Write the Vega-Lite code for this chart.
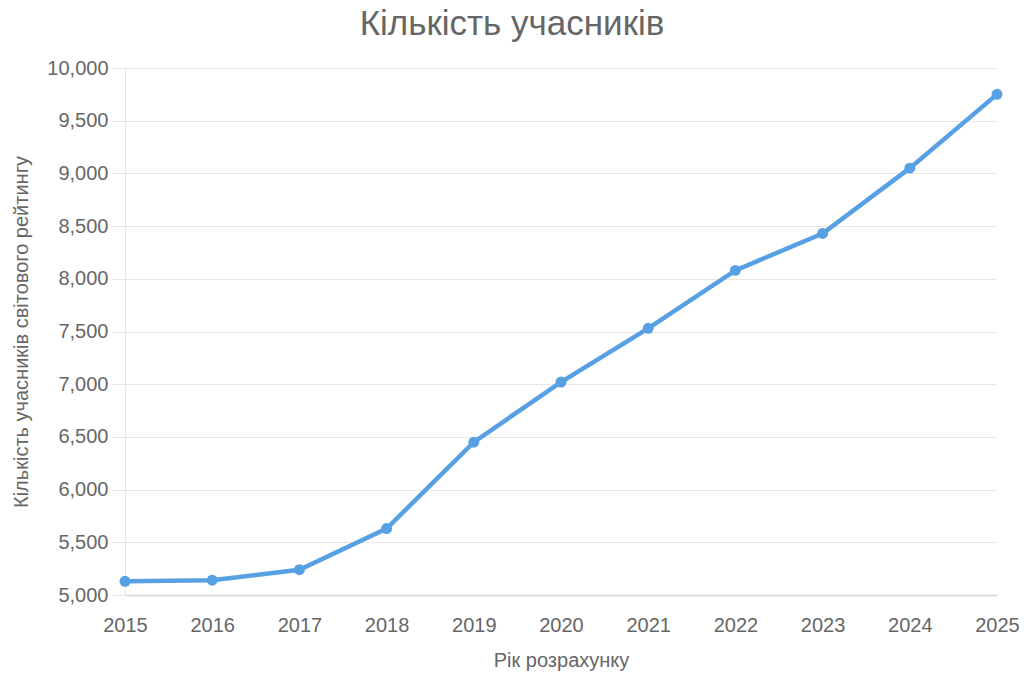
{
  "$schema": "https://vega.github.io/schema/vega-lite/v6.json",
  "width": 872,
  "height": 527,
  "autosize": "none",
  "padding": {"left": 125, "top": 68, "right": 27, "bottom": 88},
  "background": "white",
  "title": {
    "text": "Кількість учасників",
    "font": "Liberation Sans",
    "fontSize": 35,
    "fontWeight": "normal",
    "color": "#666666",
    "anchor": "middle",
    "dx": -49,
    "offset": 16
  },
  "config": {
    "view": {"stroke": null},
    "axis": {
      "labelFont": "Liberation Sans",
      "titleFont": "Liberation Sans",
      "labelColor": "#666666",
      "titleColor": "#666666",
      "labelFontSize": 20,
      "titleFontSize": 20,
      "titleFontWeight": "normal"
    }
  },
  "data": {
    "values": [
      {"year": 2015, "count": 5130},
      {"year": 2016, "count": 5140},
      {"year": 2017, "count": 5240},
      {"year": 2018, "count": 5630},
      {"year": 2019, "count": 6450},
      {"year": 2020, "count": 7020},
      {"year": 2021, "count": 7530},
      {"year": 2022, "count": 8080},
      {"year": 2023, "count": 8430},
      {"year": 2024, "count": 9050},
      {"year": 2025, "count": 9750}
    ]
  },
  "mark": {
    "type": "line",
    "color": "#58a0e4",
    "strokeWidth": 4.5,
    "point": {"filled": true, "size": 120, "color": "#58a0e4", "opacity": 1}
  },
  "encoding": {
    "x": {
      "field": "year",
      "type": "quantitative",
      "scale": {"domain": [2015, 2025], "nice": false, "zero": false},
      "axis": {
        "title": "Рік розрахунку",
        "format": "d",
        "values": [2015,2016,2017,2018,2019,2020,2021,2022,2023,2024,2025],
        "labelOverlap": false,
        "grid": false,
        "ticks": false,
        "domainColor": "#d6d6d6",
        "domainWidth": 1.5,
        "labelPadding": 20,
        "titlePadding": 15,
        "labelFlush": false
      }
    },
    "y": {
      "field": "count",
      "type": "quantitative",
      "scale": {"domain": [5000, 10000], "nice": false, "zero": false},
      "axis": {
        "title": "Кількість учасників світового рейтингу",
        "format": ",d",
        "values": [5000,5500,6000,6500,7000,7500,8000,8500,9000,9500,10000],
        "labelOverlap": false,
        "grid": true,
        "gridColor": "#e6e6e6",
        "gridWidth": 1.2,
        "tickColor": "#e6e6e6",
        "tickSize": 13,
        "domainColor": "#e6e6e6",
        "labelPadding": 4,
        "titlePadding": 15
      }
    }
  }
}
